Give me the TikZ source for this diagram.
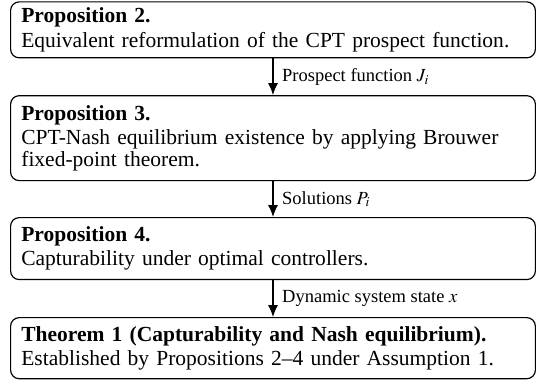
\documentclass[tikz,border=0pt]{standalone}
\usepackage{mathptmx}
\usepackage{fontspec}
\setmainfont{Liberation Serif}
\usetikzlibrary{arrows.meta}

\begin{document}
\begin{tikzpicture}[x=1pt, y=1pt, >={Latex[length=5.5pt,width=4.6pt]},
	every node/.style={font=\fontsize{10}{10.2}\selectfont},
	stepbox/.style={draw, line width=0.55pt, rounded corners=4pt, anchor=north west, text width=234pt, align=left, inner xsep=5pt, inner ysep=0pt},
	flowlabel/.style={right, inner xsep=4pt, inner ysep=2pt, font=\fontsize{8.6}{10}\selectfont}]
	\useasboundingbox (0,0) rectangle (252,-177.6);
	\node[stepbox, minimum height=26pt] (p2) at (4.65,-0.6) {\textbf{Proposition 2.}\\[1pt] Equivalent reformulation of the CPT prospect function.};
	\node[stepbox, minimum height=39.5pt] (p3) at (4.65,-44.2) {\textbf{Proposition 3.}\\[1pt] CPT-Nash equilibrium existence by applying Brouwer fixed-point theorem.};
	\node[stepbox, minimum height=28.8pt] (p4) at (4.65,-100.9) {\textbf{Proposition 4.}\\[1pt] Capturability under optimal controllers.};
	\node[stepbox, minimum height=28.4pt] (t1) at (4.65,-147.4) {\textbf{Theorem 1 (Capturability and Nash equilibrium).}\\[1pt] Established by Propositions 2--4 under Assumption 1.};
	\draw[->, line width=0.55pt] (p2.south) -- (p3.north) node[midway, flowlabel] {Prospect function $J_i$};
	\draw[->, line width=0.55pt] (p3.south) -- (p4.north) node[midway, flowlabel] {Solutions $P_i$};
	\draw[->, line width=0.55pt] (p4.south) -- (t1.north) node[midway, flowlabel] {Dynamic system state $x$};
\end{tikzpicture}
\end{document}
